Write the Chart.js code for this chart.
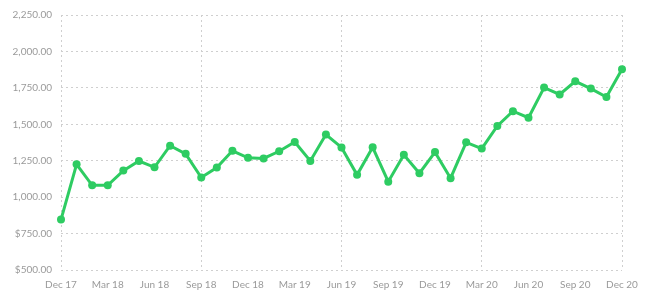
<!DOCTYPE html>
<html>
<head>
<meta charset="utf-8">
<script src="https://cdn.jsdelivr.net/npm/chart.js@4"></script>
<style>
  html, body { margin: 0; padding: 0; background: #fff; }
  #wrap { width: 650px; height: 304px; }
</style>
</head>
<body>
<div id="wrap"><canvas id="chart"></canvas></div>
<script>
const months = [
  "Dec 17", "Jan 18", "Feb 18", "Mar 18", "Apr 18", "May 18", "Jun 18", "Jul 18", "Aug 18",
  "Sep 18", "Oct 18", "Nov 18", "Dec 18", "Jan 19", "Feb 19", "Mar 19", "Apr 19", "May 19",
  "Jun 19", "Jul 19", "Aug 19", "Sep 19", "Oct 19", "Nov 19", "Dec 19", "Jan 20", "Feb 20",
  "Mar 20", "Apr 20", "May 20", "Jun 20", "Jul 20", "Aug 20", "Sep 20", "Oct 20", "Nov 20", "Dec 20"
];

const values = [
  846, 1225, 1081, 1081, 1182, 1248, 1205, 1353, 1297,
  1135, 1203, 1318, 1270, 1266, 1315, 1378, 1248, 1430,
  1341, 1153, 1342, 1106, 1291, 1164, 1309, 1130, 1376,
  1333, 1489, 1590, 1545, 1752, 1705, 1795, 1745, 1687, 1878
];

const yTickValues = [500, 750, 1000, 1250, 1500, 1750, 2000, 2250];
const yTickLabels = ["$500.00", "$750.00", "1,000.00", "1,250.00", "1,500.00", "1,750.00", "2,000.00", "2,250.00"];

const green = "#2ecc62";
const gridColor = "#cfcfcf";

const ctx = document.getElementById("chart").getContext("2d");
new Chart(ctx, {
  type: "line",
  data: {
    labels: months,
    datasets: [{
      data: values,
      borderColor: green,
      backgroundColor: green,
      borderWidth: 3,
      pointRadius: 4,
      pointBorderWidth: 0,
      pointBackgroundColor: green,
      tension: 0,
      fill: false
    }]
  },
  options: {
    responsive: true,
    maintainAspectRatio: false,
    animation: false,
    layout: { padding: { top: 11, right: 28, left: 0, bottom: 0 } },
    plugins: {
      legend: { display: false },
      tooltip: { enabled: false }
    },
    scales: {
      x: {
        afterFit: scale => { scale.height = 34; },
        border: { display: false, dash: [2, 3] },
        grid: {
          drawTicks: false,
          lineWidth: 1,
          color: c => (c.index % 3 === 0 ? gridColor : "transparent")
        },
        ticks: {
          autoSkip: false,
          maxRotation: 0,
          padding: 9,
          color: "#9a9a9a",
          font: { family: "Lato", size: 10 },
          callback: (v, i) => (i % 3 === 0 ? months[i] : null)
        }
      },
      y: {
        min: 500,
        max: 2250,
        afterFit: scale => { scale.width = 61; },
        border: { display: false, dash: [2, 3] },
        grid: { drawTicks: false, color: gridColor, lineWidth: 1 },
        ticks: {
          stepSize: 250,
          padding: 9,
          color: "#9a9a9a",
          font: { family: "Lato", size: 10 },
          callback: v => yTickLabels[yTickValues.indexOf(v)]
        }
      }
    }
  }
});
</script>
</body>
</html>
